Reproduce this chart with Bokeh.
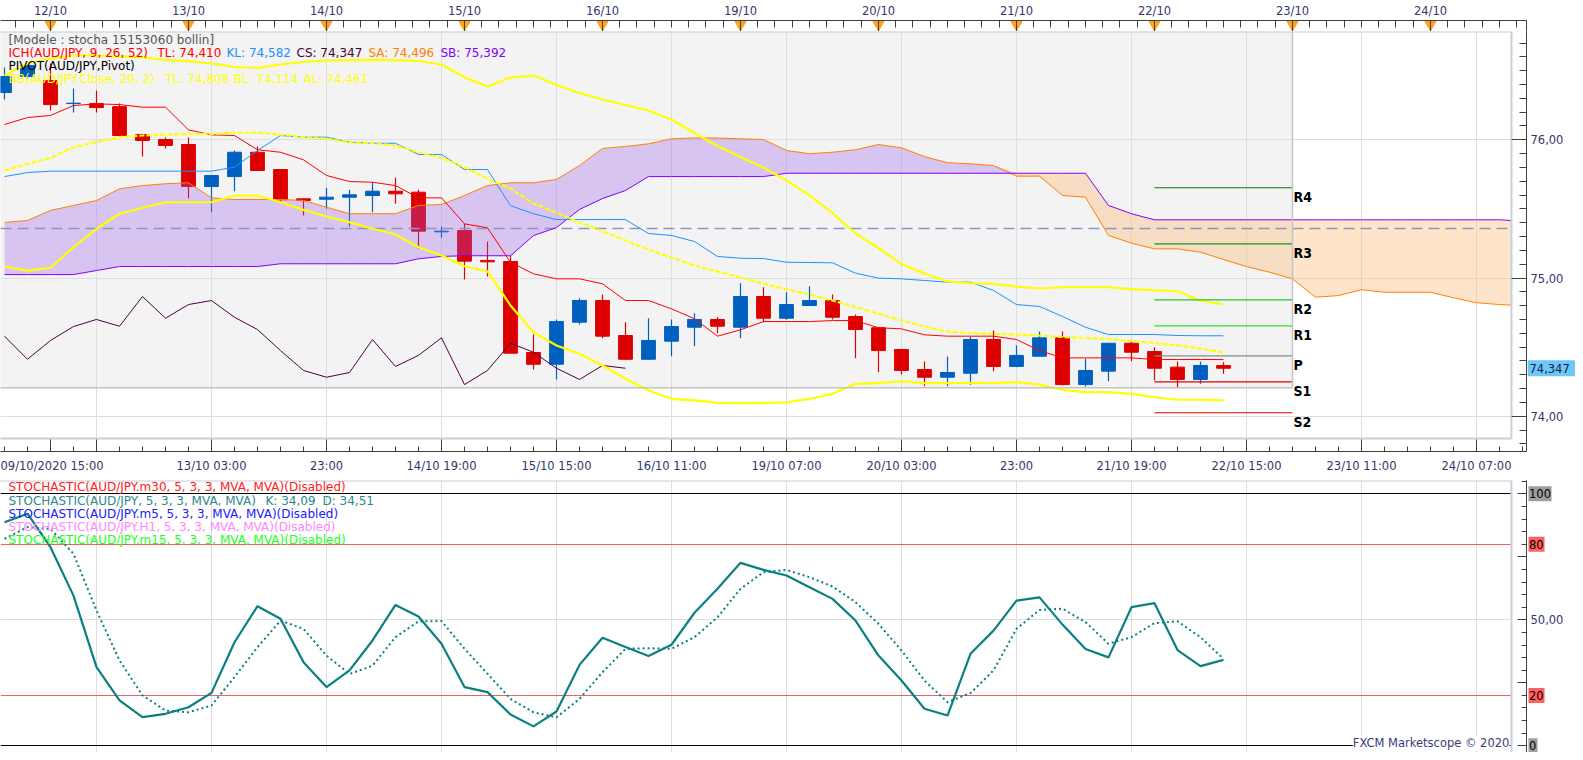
import numpy as np
from bokeh.plotting import figure
from bokeh.layouts import column, row
from bokeh.models import Range1d, FixedTicker, Label, LinearAxis
from bokeh.core.properties import value
from bokeh.embed import file_html
from bokeh.resources import INLINE

# ---------------- data (H4 bars, AUD/JPY) ----------------
bar_open = [76.342, 76.458, 76.429, 76.262, 76.262, 76.240, 76.038, 76.002, 75.966, 75.662,
            75.734, 75.910, 75.785, 75.573, 75.570, 75.585, 75.597, 75.628, 75.621, 75.334,
            75.344, 75.127, 75.119, 74.461, 74.376, 74.680, 74.837, 74.584, 74.412, 74.543,
            74.644, 74.700, 74.644, 74.866, 74.709, 74.801, 74.837, 74.721, 74.640, 74.483,
            74.338, 74.282, 74.311, 74.555, 74.360, 74.434, 74.567, 74.229, 74.326, 74.528,
            74.468, 74.355, 74.266, 74.367]
bar_high = [76.523, 76.559, 76.552, 76.371, 76.357, 76.262, 76.043, 76.017, 76.017, 75.742,
            75.923, 75.952, 75.785, 75.575, 75.653, 75.638, 75.693, 75.725, 75.638, 75.373,
            75.392, 75.264, 75.163, 74.591, 74.700, 74.854, 74.881, 74.680, 74.709, 74.700,
            74.745, 74.716, 74.962, 74.933, 74.897, 74.941, 74.881, 74.736, 74.640, 74.483,
            74.396, 74.432, 74.577, 74.620, 74.512, 74.613, 74.613, 74.417, 74.528, 74.548,
            74.499, 74.396, 74.396, 74.391]
bar_low = [76.292, 76.444, 76.212, 76.198, 76.198, 76.019, 75.879, 75.937, 75.577, 75.476,
           75.628, 75.778, 75.548, 75.452, 75.501, 75.373, 75.476, 75.537, 75.211, 75.291,
           74.989, 75.011, 74.456, 74.338, 74.266, 74.664, 74.564, 74.405, 74.412, 74.434,
           74.506, 74.601, 74.564, 74.680, 74.698, 74.801, 74.700, 74.420, 74.318, 74.302,
           74.217, 74.217, 74.227, 74.326, 74.355, 74.434, 74.222, 74.215, 74.253, 74.398,
           74.258, 74.203, 74.234, 74.307]
bar_close = [76.458, 76.538, 76.255, 76.265, 76.233, 76.031, 75.995, 75.959, 75.662, 75.742,
             75.910, 75.778, 75.566, 75.561, 75.585, 75.602, 75.628, 75.609, 75.339, 75.339,
             75.122, 75.117, 74.456, 74.376, 74.685, 74.837, 74.579, 74.412, 74.548, 74.649,
             74.700, 74.651, 74.866, 74.709, 74.808, 74.837, 74.716, 74.627, 74.475, 74.331,
             74.282, 74.316, 74.555, 74.360, 74.440, 74.567, 74.229, 74.331, 74.528, 74.463,
             74.347, 74.266, 74.367, 74.347]

tenkan = [76.111, 76.161, 76.176, 76.248, 76.260, 76.255, 76.236, 76.236, 76.072, 76.036,
          76.031, 75.928, 75.910, 75.855, 75.742, 75.698, 75.693, 75.669, 75.580, 75.580,
          75.392, 75.363, 75.114, 75.030, 74.994, 74.994, 74.958, 74.837, 74.837, 74.777,
          74.705, 74.579, 74.625, 74.685, 74.685, 74.685, 74.692, 74.692, 74.640, 74.632,
          74.589, 74.579, 74.579, 74.579, 74.555, 74.475, 74.422, 74.422, 74.422, 74.422,
          74.410, 74.410, 74.410, 74.410]
kijun = [75.734, 75.763, 75.773, 75.773, 75.773, 75.773, 75.773, 75.773, 75.773, 75.773,
         75.802, 75.923, 76.031, 76.019, 76.019, 75.983, 75.975, 75.975, 75.894, 75.894,
         75.785, 75.785, 75.524, 75.465, 75.423, 75.423, 75.423, 75.423, 75.322, 75.308,
         75.264, 75.156, 75.143, 75.141, 75.114, 75.112, 75.110, 75.035, 74.999, 74.994,
         74.982, 74.970, 74.970, 74.910, 74.808, 74.794, 74.722, 74.644, 74.591, 74.591,
         74.591, 74.584, 74.582, 74.582]
senkou_a = [75.402, 75.416, 75.489, 75.525, 75.561, 75.645, 75.669, 75.682, 75.689, 75.580,
            75.568, 75.568, 75.568, 75.561, 75.512, 75.465, 75.465, 75.465, 75.525, 75.532,
            75.597, 75.669, 75.689, 75.689, 75.713, 75.814, 75.937, 75.952, 75.971, 76.007,
            76.014, 76.013, 76.007, 76.002, 75.923, 75.899, 75.910, 75.928, 75.966, 75.942,
            75.879, 75.834, 75.826, 75.814, 75.737, 75.737, 75.597, 75.585, 75.308, 75.252,
            75.211, 75.211, 75.187, 75.134, 75.083, 75.042, 74.994, 74.861, 74.873, 74.915,
            74.897, 74.897, 74.897, 74.857, 74.821, 74.808, 74.799]
senkou_b = [75.025, 75.025, 75.025, 75.025, 75.054, 75.083, 75.083, 75.083, 75.083, 75.083,
            75.083, 75.083, 75.103, 75.103, 75.103, 75.103, 75.103, 75.103, 75.139, 75.156,
            75.161, 75.161, 75.161, 75.307, 75.365, 75.496, 75.575, 75.633, 75.734, 75.734,
            75.734, 75.734, 75.734, 75.734, 75.758, 75.758, 75.758, 75.758, 75.758, 75.758,
            75.758, 75.758, 75.758, 75.758, 75.758, 75.758, 75.758, 75.758, 75.525, 75.465,
            75.421, 75.421, 75.421, 75.421, 75.421, 75.421, 75.421, 75.421, 75.421, 75.421,
            75.421, 75.421, 75.421, 75.421, 75.421, 75.421, 75.411]
bb_upper = [76.465, 76.552, 76.588, 76.610, 76.610, 76.603, 76.596, 76.578, 76.570, 76.552,
            76.527, 76.519, 76.545, 76.563, 76.574, 76.577, 76.579, 76.577, 76.570, 76.545,
            76.453, 76.386, 76.451, 76.465, 76.397, 76.339, 76.292, 76.252, 76.212, 76.147,
            76.049, 75.955, 75.876, 75.800, 75.706, 75.598, 75.470, 75.322, 75.217, 75.101,
            75.033, 74.975, 74.962, 74.958, 74.938, 74.924, 74.933, 74.933, 74.933, 74.920,
            74.910, 74.904, 74.837, 74.808]
bb_mid = [75.778, 75.826, 75.870, 75.946, 75.983, 76.019, 76.031, 76.038, 76.043, 76.043,
          76.051, 76.051, 76.038, 76.019, 76.007, 75.983, 75.975, 75.959, 75.910, 75.870,
          75.802, 75.718, 75.648, 75.539, 75.474, 75.402, 75.339, 75.271, 75.206, 75.148,
          75.090, 75.047, 75.004, 74.960, 74.917, 74.881, 74.837, 74.790, 74.742, 74.692,
          74.649, 74.613, 74.602, 74.596, 74.591, 74.584, 74.573, 74.566, 74.559, 74.544,
          74.530, 74.512, 74.490, 74.461]
bb_lower = [75.083, 75.054, 75.074, 75.223, 75.356, 75.465, 75.508, 75.548, 75.548, 75.548,
            75.597, 75.597, 75.548, 75.493, 75.445, 75.404, 75.356, 75.315, 75.223, 75.163,
            75.085, 75.049, 74.801, 74.608, 74.512, 74.452, 74.367, 74.271, 74.186, 74.126,
            74.114, 74.097, 74.094, 74.094, 74.101, 74.126, 74.162, 74.234, 74.239, 74.253,
            74.239, 74.239, 74.242, 74.239, 74.246, 74.229, 74.191, 74.174, 74.174, 74.162,
            74.137, 74.119, 74.119, 74.114]

stoch_k = [88.7, 92.1, 78.8, 59.6, 31.2, 18.0, 11.4, 12.7, 15.3, 21.0,
           41.1, 55.4, 50.4, 33.2, 23.3, 29.9, 41.8, 55.9, 51.3, 40.5,
           23.3, 21.3, 12.4, 7.7, 13.6, 32.1, 42.9, 39.2, 35.6, 40.1,
           52.8, 62.3, 72.6, 69.8, 67.6, 62.9, 58.3, 49.7, 35.8, 25.9,
           14.7, 12.0, 36.5, 45.7, 57.6, 58.9, 48.1, 38.4, 35.1, 55.0,
           56.6, 38.0, 31.6, 34.09]
stoch_d = [82.1, 86.8, 86.1, 76.2, 53.7, 33.9, 20.0, 14.0, 13.3, 16.0,
           27.3, 39.1, 49.7, 46.4, 35.8, 28.5, 31.8, 43.1, 49.4, 49.5,
           38.5, 28.6, 18.6, 13.3, 11.3, 18.6, 29.2, 38.5, 38.7, 38.5,
           43.1, 51.0, 62.3, 68.9, 69.8, 66.9, 63.2, 57.0, 48.4, 37.8,
           25.9, 17.3, 20.9, 29.9, 46.4, 53.9, 54.4, 49.1, 40.5, 43.1,
           48.7, 49.4, 43.1, 34.51]
stoch_levels = [80, 20]
stoch_bounds = [100, 0]
stoch_tag_values = [100, 80, 20, 0]
stoch_tag_texts = ["100", "80", "20", "0"]
stoch_tag_colors = ["#9e9e9e", "#ff5f5f", "#ff5f5f", "#9e9e9e"]
stoch_mid_value = [50]
stoch_mid_text = ["50,00"]

pivot_names = ["R4", "R3", "R2", "R1", "P", "S1", "S2"]
pivot_levels = [75.653, 75.247, 74.842, 74.654, 74.437, 74.249, 74.025]
pivot_colors = ["#008000", "#139a13", "#22c422", "#33dd33", "#8a8a8a", "#e00000", "#e00000"]
pivot_start_bar = 50
pivot_end_bar = 56
hline_level = 75.356
last_price = [74.347]
last_price_text = ["74,347"]

day_bars = [2, 8, 14, 20, 26, 32, 38, 44, 50, 56, 62]
day_labels = ["12/10", "13/10", "14/10", "15/10", "16/10", "19/10", "20/10", "21/10", "22/10", "23/10", "24/10"]
time_bars = [2, 4, 9, 14, 19, 24, 29, 34, 39, 44, 49, 54, 59, 64]
time_labels = ["09/10/2020 15:00", "", "13/10 03:00", "23:00", "14/10 19:00", "15/10 15:00",
               "16/10 11:00", "19/10 07:00", "20/10 03:00", "23:00", "21/10 19:00",
               "22/10 15:00", "23/10 11:00", "24/10 07:00"]
grid_bars = [4, 9, 14, 19, 24, 29, 34, 39, 44, 49, 54, 59, 64]
price_ticks = [74, 75, 76]
price_labels = ["74,00", "75,00", "76,00"]

legend_model = "[Modele : stocha 15153060 bollin]"
legend_ich = ["ICH(AUD/JPY, 9, 26, 52)", "TL: 74,410", "KL: 74,582", "CS: 74,347", "SA: 74,496", "SB: 75,392"]
legend_pivot = "PIVOT(AUD/JPY,Pivot)"
legend_bb = ["BB(AUD/JPY.Close, 20, 2)", "TL: 74,808", "BL: 74,114", "AL: 74,461"]
legend_stoch = ["STOCHASTIC(AUD/JPY.m30, 5, 3, 3, MVA, MVA)(Disabled)",
                "STOCHASTIC(AUD/JPY, 5, 3, 3, MVA, MVA)",
                "STOCHASTIC(AUD/JPY.m5, 5, 3, 3, MVA, MVA)(Disabled)",
                "STOCHASTIC(AUD/JPY.H1, 5, 3, 3, MVA, MVA)(Disabled)",
                "STOCHASTIC(AUD/JPY.m15, 5, 3, 3, MVA, MVA)(Disabled)"]
legend_stoch_values = ["K: 34,09", "D: 34,51"]
copyright_text = "FXCM Marketscope \u00a9 2020"

# ---------------- styling / layout constants (canvas pixels) ----------------
FONT = "DejaVu Sans"
AX_FS = "11.5px"
LEG_FS = "12px"
AX_TXT = "#35356e"
AX_LINE = "#404040"
GRID = "#dedede"
FRAME = "#c8d0dc"
RED = "#dd0000"
BLUE = "#0060c0"
TEAL = "#0a8080"
MAIN_W = 1527
SIDE_W = 48
X_START, X_END, FRAME_EDGE = -0.1739, 66.174, 65.52
Y1_MIN, Y1_MAX = 73.7446, 76.7837
Y1_FRAME_BOTTOM = 73.839
DATA_BOTTOM, DATA_END = 74.205, 56
Y2_MIN, Y2_MAX = -2.66, 105.28

xr = Range1d(X_START, X_END)
yr1 = Range1d(Y1_MIN, Y1_MAX)
yr2 = Range1d(Y2_MIN, Y2_MAX)


def style_axis(ax, tin, minin, standoff):
    ax.axis_line_color = AX_LINE
    ax.major_tick_line_color = AX_LINE
    ax.minor_tick_line_color = AX_LINE
    ax.major_tick_in = tin
    ax.major_tick_out = 0
    ax.minor_tick_in = minin
    ax.minor_tick_out = 0
    ax.major_label_standoff = standoff
    ax.major_label_text_font = FONT
    ax.major_label_text_font_size = AX_FS
    ax.major_label_text_color = AX_TXT


def tick_only_axes(p, short_ticks, short_len, long_ticks, long_len):
    """Right-hand axis line with inward ticks only (values are written in the side column)."""
    a = p.yaxis[0]
    style_axis(a, 0, short_len, 0)
    a.ticker = FixedTicker(ticks=[], minor_ticks=short_ticks)
    b = LinearAxis()
    style_axis(b, 0, long_len, 0)
    b.ticker = FixedTicker(ticks=[], minor_ticks=long_ticks)
    p.add_layout(b, "right")


common = dict(width=MAIN_W, x_range=xr, toolbar_location=None, output_backend="svg",
              min_border_left=0, min_border_right=1, outline_line_color=None,
              background_fill_color="white", border_fill_color="white")


def side_fig(height, y_range, top, bottom):
    s = figure(width=SIDE_W, height=height, x_range=Range1d(0, SIDE_W), y_range=y_range,
               x_axis_location=None, y_axis_location=None, toolbar_location=None,
               output_backend="svg", min_border_left=0, min_border_right=0,
               min_border_top=top, min_border_bottom=bottom, outline_line_color=None,
               background_fill_color="white", border_fill_color="white")
    s.grid.visible = False
    return s


def side_text(s, ys, texts, color=AX_TXT, x=3):
    s.text(x=[x] * len(ys), y=ys, text=texts, text_baseline="middle", text_align="left",
           text_font=value(FONT), text_font_size=AX_FS, text_color=color)


# ---------- top date strip ----------
p0 = figure(height=31, y_range=Range1d(0, 1), x_axis_location="above", y_axis_location="right",
            min_border_top=18, min_border_bottom=0, **common)
p0.grid.visible = False
style_axis(p0.xaxis[0], 12, 7, 3)
p0.xaxis.ticker = FixedTicker(ticks=day_bars, minor_ticks=np.arange(-0.25, 66.6, 0.75).tolist())
p0.xaxis.major_label_overrides = {b: t for b, t in zip(day_bars, day_labels)}
style_axis(p0.yaxis[0], 0, 0, 0)
p0.yaxis.ticker = FixedTicker(ticks=[])
p0.scatter(day_bars, [0.62] * len(day_bars), marker="inverted_triangle", size=11,
           fill_color="#ffa31a", line_color="#ffa31a")

# ---------- price panel ----------
p1 = figure(height=447, y_range=yr1, y_axis_location="right",
            min_border_top=0, min_border_bottom=27, **common)
p1.xgrid.ticker = FixedTicker(ticks=grid_bars)
p1.ygrid.ticker = FixedTicker(ticks=price_ticks)
p1.grid.grid_line_color = GRID
ax = p1.xaxis[0]
style_axis(ax, 12, 5, 7)
ax.ticker = FixedTicker(ticks=time_bars, minor_ticks=list(range(0, 67)))
ax.major_label_overrides = {b: t for b, t in zip(time_bars, time_labels)}
tick_only_axes(p1, np.round(np.arange(73.8, 76.75, 0.1), 1).tolist(), 7, price_ticks, 15)

# data-area background
p1.quad(left=[X_START - 1], right=[DATA_END], bottom=[DATA_BOTTOM], top=[Y1_MAX + 1],
        fill_color="#f3f3f3", line_color=None, level="image")

bars = np.arange(len(bar_open))
o, h, l, c = (np.array(v) for v in (bar_open, bar_high, bar_low, bar_close))
ccol = [BLUE if cc >= oo else RED for oo, cc in zip(o, c)]
p1.segment(x0=bars, y0=l, x1=bars, y1=h, line_color=ccol, line_width=1.2)
p1.vbar(x=bars, width=0.6, top=np.maximum(o, c), bottom=np.minimum(o, c),
        fill_color=ccol, line_color=ccol, line_width=1)

cx = np.arange(len(senkou_a))
sa, sb = np.array(senkou_a), np.array(senkou_b)
hi = np.maximum(sa, sb)
p1.varea(x=cx, y1=sb, y2=hi, fill_color="#9c5af0", fill_alpha=0.3)
p1.varea(x=cx, y1=sa, y2=hi, fill_color="#fbc389", fill_alpha=0.45)

p1.hspan(y=[hline_level], line_color="#8a96c0", line_width=1.5, line_dash="11 6")

p1.line(cx, sa, line_color="#ff8000", line_width=1)
p1.line(cx, sb, line_color="#8000ff", line_width=1)
p1.line(bars, tenkan, line_color="#ff0000", line_width=1)
p1.line(bars, kijun, line_color="#1e90ff", line_width=1)
lag = 26
p1.line(bars[:len(bars) - lag], c[lag:], line_color="#4a0040", line_width=1)
p1.line(bars, bb_upper, line_color="#ffff00", line_width=2.2)
p1.line(bars, bb_lower, line_color="#ffff00", line_width=2.2)
p1.line(bars, bb_mid, line_color="#ffff00", line_width=2.2, line_dash="5 2")

n_piv = len(pivot_levels)
p1.segment(x0=[pivot_start_bar] * n_piv, x1=[pivot_end_bar] * n_piv, y0=pivot_levels, y1=pivot_levels,
           line_color=pivot_colors, line_width=1.2)
p1.text(x=[pivot_end_bar] * n_piv, y=pivot_levels, text=pivot_names, x_offset=1, y_offset=1,
        text_baseline="top", text_align="left", text_font=value("DejaVu Sans Condensed"),
        text_font_style="bold", text_font_size="14px", text_color="black")

# masks outside the chart frame
p1.quad(left=[FRAME_EDGE], right=[X_END + 1], bottom=[Y1_MIN - 1], top=[Y1_MAX + 1],
        fill_color="white", line_color=None)
p1.quad(left=[X_START - 1], right=[X_END + 1], bottom=[Y1_MIN - 1], top=[Y1_FRAME_BOTTOM],
        fill_color="white", line_color=None)
# borders
p1.segment(x0=[DATA_END, X_START - 1], y0=[DATA_BOTTOM, DATA_BOTTOM],
           x1=[DATA_END, DATA_END], y1=[Y1_MAX, DATA_BOTTOM], line_color="#c4c4c4", line_width=1.5)
p1.segment(x0=[FRAME_EDGE, X_START - 1, X_START - 1], y0=[Y1_FRAME_BOTTOM, Y1_FRAME_BOTTOM, Y1_MAX],
           x1=[FRAME_EDGE, FRAME_EDGE, FRAME_EDGE], y1=[Y1_MAX, Y1_FRAME_BOTTOM, Y1_MAX],
           line_color=FRAME, line_width=2)


def lab(p, x, y, text, color, xoff=0, fs=LEG_FS, **kw):
    p.add_layout(Label(x=x, y=y, x_offset=xoff, text=text, text_color=color, text_font=FONT,
                       text_font_size=fs, text_baseline="middle", **kw))


lab(p1, X_START, 76.7236, legend_model, "#555555", 8)
ich_offsets = [8, 157, 226, 296, 368, 440]
ich_colors = ["#ff0000", "#ff0000", "#1e90ff", "#4a0030", "#ff8000", "#8000ff"]
for t, xo, col in zip(legend_ich, ich_offsets, ich_colors):
    lab(p1, X_START, 76.6295, t, col, xo)
lab(p1, X_START, 76.5326, legend_pivot, "#000000", 8)
for t, xo in zip(legend_bb, [8, 165, 233, 303]):
    lab(p1, X_START, 76.4414, t, "#ffff00", xo)

# right-hand label column of the price panel
s1 = side_fig(447, yr1, 0, 27)
side_text(s1, price_ticks, price_labels)
s1.rect(x=[SIDE_W / 2], y=last_price, width=[SIDE_W], height=16, height_units="screen",
        fill_color="#6cc8f8", line_color=None)
side_text(s1, last_price, last_price_text, color="#1a2040", x=2)

# ---------- stochastic panel ----------
p2 = figure(height=274, y_range=yr2, y_axis_location="right",
            x_axis_location=None, min_border_top=2, min_border_bottom=0, **common)
p2.xgrid.ticker = FixedTicker(ticks=grid_bars)
p2.ygrid.ticker = FixedTicker(ticks=[50])
p2.grid.grid_line_color = GRID
tick_only_axes(p2, list(range(-5, 110, 5)), 5, [0, 25, 50, 75, 100], 9)

p2.hspan(y=stoch_levels, line_color="#f06060", line_width=1.2)
p2.hspan(y=stoch_bounds, line_color="#000000", line_width=1.2)
sbars = np.arange(len(stoch_k))
p2.line(sbars, stoch_d, line_color=TEAL, line_width=2, line_dash="2 3")
p2.line(sbars, stoch_k, line_color=TEAL, line_width=2.2)
p2.quad(left=[FRAME_EDGE], right=[X_END + 1], bottom=[Y2_MIN - 1], top=[Y2_MAX + 1],
        fill_color="white", line_color=None)
p2.segment(x0=[FRAME_EDGE, X_START - 1], y0=[Y2_MIN, Y2_MAX], x1=[FRAME_EDGE, FRAME_EDGE],
           y1=[Y2_MAX, Y2_MAX], line_color=FRAME, line_width=2)

stoch_y = [102.62, 97.34, 92.06, 86.90, 81.75]
stoch_cols = ["#ff2020", "#2a8a8a", "#2020ff", "#ff88ff", "#22ff22"]
for t, yy, col in zip(legend_stoch, stoch_y, stoch_cols):
    lab(p2, X_START, yy, t, col, 8)
for t, xo in zip(legend_stoch_values, [265, 322]):
    lab(p2, X_START, stoch_y[1], t, stoch_cols[1], xo)
lab(p2, 65.43, 1.1, copyright_text, "#3c3c7a", 0, fs=AX_FS, text_align="right",
    background_fill_color="white")

s2 = side_fig(274, yr2, 2, 0)
side_text(s2, stoch_mid_value, stoch_mid_text)
tag_w = [23, 16, 16, 9]
s2.rect(x=[1 + w / 2 for w in tag_w], y=stoch_tag_values, width=tag_w, height=15,
        height_units="screen", fill_color=stoch_tag_colors, line_color=None)
side_text(s2, stoch_tag_values, stoch_tag_texts, color="#000000", x=1.5)

layout = column(p0, row(p1, s1, spacing=0), row(p2, s2, spacing=0), spacing=0)
open("out.html", "w").write(file_html(layout, INLINE))
